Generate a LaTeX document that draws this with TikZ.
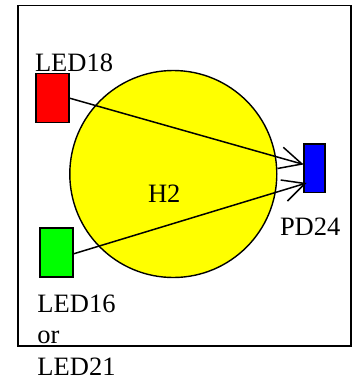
\documentclass[tikz,border=0pt]{standalone}
\usepackage{fontspec}
\setmainfont{Liberation Serif}
\definecolor{cy}{RGB}{255,255,0}
\definecolor{cr}{RGB}{255,0,0}
\definecolor{cg}{RGB}{0,255,0}
\definecolor{cb}{RGB}{0,0,255}
\tikzset{
  lbl/.style={anchor=base west,inner sep=0pt,outer sep=0pt,text depth=0pt,font=\fontsize{26.5}{30}\selectfont,text=black},
  ledbox/.style={draw=black,line width=1.4pt,inner sep=0pt,outer sep=0pt,anchor=north west},
  ray/.style={draw=black,line width=1.5pt},
  barb/.style={draw=black,line width=1.5pt,line join=miter}
}
\begin{document}
\begin{tikzpicture}[x=1pt,y=-1pt]
\useasboundingbox (0,0) rectangle (356,378);
\node[draw=black,line width=1.5pt,minimum width=333pt,minimum height=340.5pt,inner sep=0pt,outer sep=0pt,anchor=north west] (frame) at (18,5.5) {};
\node[circle,draw=black,fill=cy,line width=1.4pt,minimum size=207pt,inner sep=0pt,outer sep=0pt] (sphere) at (173.3,174) {};
\node[ledbox,fill=cr,minimum width=33pt,minimum height=49pt] (red) at (36,73.5) {};
\node[ledbox,fill=cg,minimum width=33pt,minimum height=49pt] (grn) at (40,228) {};
\node[ledbox,fill=cb,minimum width=21pt,minimum height=48.5pt] (blu) at (304,144) {};
\coordinate (tipa) at (302,164);
\coordinate (tipb) at (305,183.5);
\draw[ray] (red.east) -- (tipa);
\draw[ray] (grn.east |- 254,254) -- (tipb);
\coordinate (a1) at (283.3,147.3);
\coordinate (a2) at (277.5,168.5);
\coordinate (b1) at (280.7,180);
\coordinate (b2) at (287.5,201);
\draw[barb] (a1) -- (tipa) -- (a2);
\draw[barb] (b1) -- (tipb) -- (b2);
\node[lbl] (t18) at (35,71) {LED18};
\node[lbl] (th2) at (148,202) {H2};
\node[lbl] (t24) at (280,235.5) {PD24};
\node[lbl] (t16) at (37.5,312.7) {LED16};
\node[lbl] (tor) at (37.5,343.3) {or};
\node[lbl] (t21) at (37.5,375.3) {LED21};
\end{tikzpicture}
\end{document}
